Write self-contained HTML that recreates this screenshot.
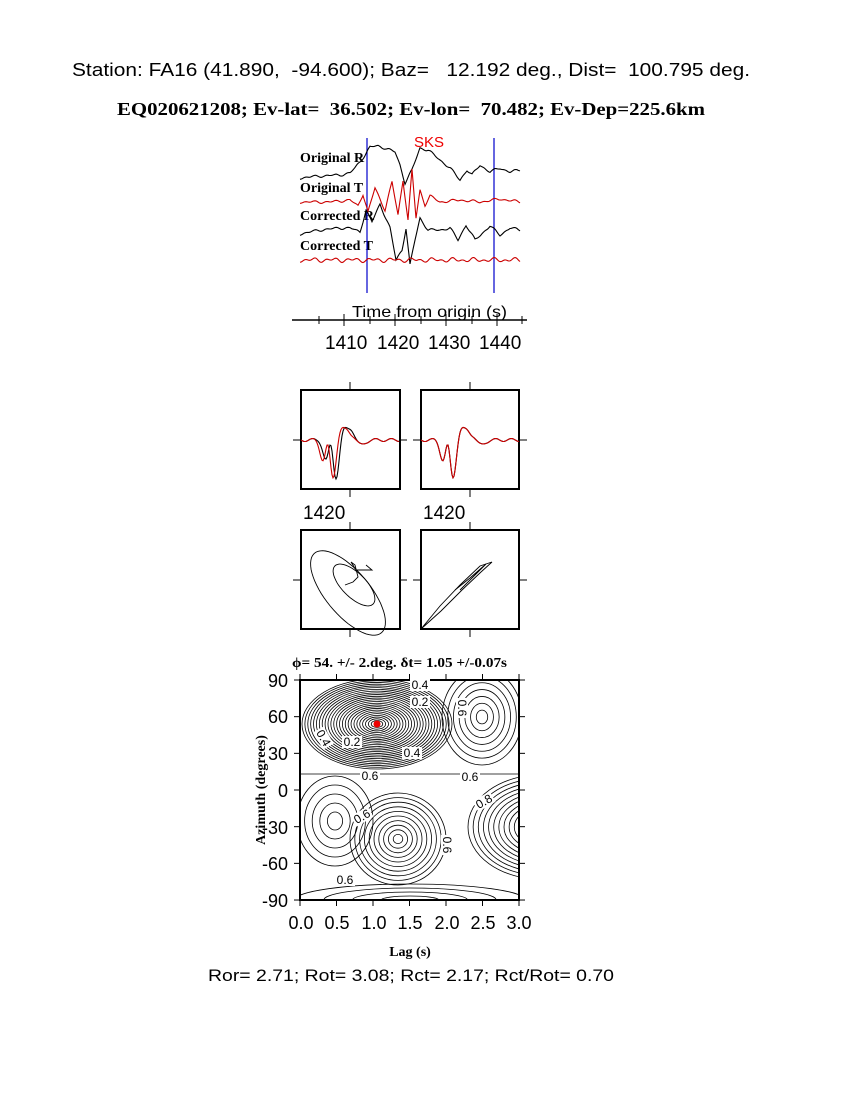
<!DOCTYPE html>
<html><head><meta charset="utf-8"><style>
body{margin:0;background:#fff;width:850px;height:1100px;overflow:hidden}
svg{position:absolute;left:0;top:0}
text{font-family:"Liberation Sans",sans-serif;white-space:pre}
.s{font-family:"Liberation Serif",serif;font-weight:bold}
</style></head><body>
<svg id="g" width="850" height="1100" viewBox="0 0 850 1100" xml:space="preserve">
<text x="72" y="76" font-size="18" textLength="678" lengthAdjust="spacingAndGlyphs">Station: FA16 (41.890,  -94.600); Baz=   12.192 deg., Dist=  100.795 deg.</text>
<text class="s" x="117" y="115" font-size="18" textLength="588" lengthAdjust="spacingAndGlyphs">EQ020621208; Ev-lat=  36.502; Ev-lon=  70.482; Ev-Dep=225.6km</text>
<text x="414" y="147" font-size="15" fill="#e00">SKS</text>
<text class="s" x="300" y="162" font-size="14">Original R</text>
<text class="s" x="300" y="192" font-size="14">Original T</text>
<text class="s" x="300" y="220" font-size="14">Corrected R</text>
<text class="s" x="300" y="250" font-size="14">Corrected T</text>
<line x1="367" y1="138" x2="367" y2="293" stroke="#00c" stroke-width="1.2"/>
<line x1="494" y1="138" x2="494" y2="293" stroke="#00c" stroke-width="1.2"/>
<text x="352" y="317" font-size="16" textLength="155" lengthAdjust="spacingAndGlyphs">Time from origin (s)</text>
<line x1="292" y1="320" x2="527" y2="320" stroke="#000" stroke-width="1.5"/>
<g stroke="#000" stroke-width="1">
<line x1="319" y1="316" x2="319" y2="324"/><line x1="344" y1="314" x2="344" y2="326"/><line x1="370" y1="316" x2="370" y2="324"/><line x1="395" y1="314" x2="395" y2="326"/><line x1="421" y1="316" x2="421" y2="324"/><line x1="446" y1="314" x2="446" y2="326"/><line x1="472" y1="316" x2="472" y2="324"/><line x1="497" y1="314" x2="497" y2="326"/><line x1="522" y1="316" x2="522" y2="324"/>
</g>
<g font-size="19"><text x="325" y="349">1410</text><text x="377" y="349">1420</text><text x="428" y="349">1430</text><text x="479" y="349">1440</text></g>
<g id="boxes" fill="none" stroke="#000" stroke-width="2">
<rect x="301" y="390" width="99" height="99"/><rect x="421" y="390" width="98" height="99"/>
<rect x="301" y="530" width="99" height="99"/><rect x="421" y="530" width="98" height="99"/>
</g>
<g font-size="19"><text x="303" y="519">1420</text><text x="423" y="519">1420</text></g>
<text class="s" x="292" y="667" font-size="14" textLength="215" lengthAdjust="spacingAndGlyphs">ϕ= 54. +/- 2.deg. δt= 1.05 +/-0.07s</text>
<rect x="300" y="680" width="219" height="220" fill="none" stroke="#000" stroke-width="2"/>
<g font-size="18" text-anchor="end"><text x="288" y="687">90</text><text x="288" y="723">60</text><text x="288" y="760">30</text><text x="288" y="797">0</text><text x="288" y="834">-30</text><text x="288" y="870">-60</text><text x="288" y="907">-90</text></g>
<g font-size="18" text-anchor="middle"><text x="301" y="929">0.0</text><text x="337" y="929">0.5</text><text x="374" y="929">1.0</text><text x="410" y="929">1.5</text><text x="447" y="929">2.0</text><text x="483" y="929">2.5</text><text x="519" y="929">3.0</text></g>
<text class="s" x="265" y="790" font-size="14" text-anchor="middle" transform="rotate(-90 265 790)">Azimuth (degrees)</text>
<text class="s" x="410" y="956" font-size="14" text-anchor="middle">Lag (s)</text>
<text x="208" y="981" font-size="17" textLength="406" lengthAdjust="spacingAndGlyphs">Ror= 2.71; Rot= 3.08; Rct= 2.17; Rct/Rot= 0.70</text>
<g id="dyn"></g>
</svg>
<script>
var d=document.getElementById('dyn'),NS='http://www.w3.org/2000/svg';
function P(pts,c,w){var p=document.createElementNS(NS,'path');p.setAttribute('d','M'+pts.map(function(q){return q[0].toFixed(1)+','+q[1].toFixed(1)}).join('L'));p.setAttribute('fill','none');p.setAttribute('stroke',c);p.setAttribute('stroke-width',w||1);d.appendChild(p);}
function T(x,y,s,r){var t=document.createElementNS(NS,'text');t.setAttribute('x',x);t.setAttribute('y',y);t.setAttribute('font-size',12);t.setAttribute('text-anchor','middle');if(r)t.setAttribute('transform','rotate('+r+' '+x+' '+y+')');t.textContent=s;var b=document.createElementNS(NS,'rect');b.setAttribute('x',x-10);b.setAttribute('y',y-10);b.setAttribute('width',20);b.setAttribute('height',12);b.setAttribute('fill','#fff');if(r)b.setAttribute('transform','rotate('+r+' '+x+' '+y+')');d.appendChild(b);d.appendChild(t);}
function g(x,c,s){return Math.exp(-(x-c)*(x-c)/(2*s*s));}
function lin(x,xs,ys){for(var i=0;i<xs.length-1;i++)if(x<=xs[i+1]){var t=(x-xs[i])/(xs[i+1]-xs[i]);return ys[i]+t*(ys[i+1]-ys[i]);}return ys[ys.length-1];}
function tr(xs,ys,c,ns){var a=[];for(var x=300;x<=520;x+=1)a.push([x,lin(x,xs,ys)+(ns||0)*Math.sin(x/2.2)*Math.sin(x/7)]);P(a,c,1.1);}
tr([300,320,340,350,355,365,370,378,385,395,400,405,412,420,428,440,450,460,467,472,480,490,500,510,520],
   [178,176,175,173,168,155,147,146,148,152,165,183,170,148,150,160,168,180,170,175,165,172,168,172,170],'#000',1.5);
tr([300,330,350,358,363,368,375,385,392,398,403,408,412,416,420,425,430,440,460,480,500,520],
   [202,202,200,206,194,212,188,210,182,215,180,220,170,218,190,205,196,202,200,202,199,202],'#c00',1.5);
tr([300,320,340,350,360,366,372,380,390,396,402,406,410,415,420,428,440,450,458,466,475,490,500,510,520],
   [234,230,228,228,232,210,222,204,228,260,250,228,265,240,218,230,230,228,240,225,240,226,235,228,230],'#000',1.5);
tr([300,520],[260,260],'#c00',2.5);
function bw(x0,sh,c){var a=[];for(var x=x0;x<=x0+98;x+=1){var u=x-x0;a.push([x,440+1.5*Math.sin(u/2.5)+38*g(u,32+sh,3)+20*g(u,22+sh,3)-8*g(u,27+sh,2)-10*g(u,40+sh,3)-8*g(u,46+sh,3)+5*g(u,60,4)-4*g(u,52,3)]);}P(a,c,1.1);}
bw(301,3,'#000');bw(301,0,'#c00');bw(421,0,'#000');bw(421,0,'#c00');
function el(cx,cy,rx,ry,rot,c){var a=[];for(var t=0;t<=6.35;t+=0.1){var x=rx*Math.cos(t),y=ry*Math.sin(t),r=rot*Math.PI/180;a.push([cx+x*Math.cos(r)-y*Math.sin(r),cy+x*Math.sin(r)+y*Math.cos(r)]);}P(a,c,0.9);}
el(348,593,52,22,50,'#000');el(354,585,27,12,45,'#000');
P([[345,585],[353,582],[358,577],[355,565],[351,562],[356,570],[372,570],[366,565]],'#000',0.9);
P([[421,629],[440,606],[460,585],[480,566],[492,562],[481,572],[462,590],[441,611],[421,629]],'#000',0.9);
P([[455,590],[470,578],[486,564],[474,576],[460,590]],'#000',0.9);
[[301,390],[421,390],[301,530],[421,530]].forEach(function(b){var l=document.createElementNS(NS,'g');l.innerHTML='<line x1="'+(b[0]-8)+'" y1="'+(b[1]+50)+'" x2="'+b[0]+'" y2="'+(b[1]+50)+'" stroke="#000"/><line x1="'+(b[0]+98)+'" y1="'+(b[1]+50)+'" x2="'+(b[0]+106)+'" y2="'+(b[1]+50)+'" stroke="#000"/><line x1="'+(b[0]+49)+'" y1="'+(b[1]-8)+'" x2="'+(b[0]+49)+'" y2="'+b[1]+'" stroke="#000"/><line x1="'+(b[0]+49)+'" y1="'+(b[1]+99)+'" x2="'+(b[0]+49)+'" y2="'+(b[1]+107)+'" stroke="#000"/>';d.appendChild(l);});
var cl=document.createElementNS(NS,'clipPath');cl.id='cc';cl.innerHTML='<rect x="300" y="680" width="219" height="220"/>';d.appendChild(cl);
var cg=document.createElementNS(NS,'g');cg.setAttribute('clip-path','url(#cc)');d.appendChild(cg);
function ce(cx,cy,rx,ry,n){for(var i=1;i<=n;i++){var e=document.createElementNS(NS,'ellipse');e.setAttribute('cx',cx);e.setAttribute('cy',cy);e.setAttribute('rx',rx*i/n);e.setAttribute('ry',ry*i/n);e.setAttribute('fill','none');e.setAttribute('stroke','#000');e.setAttribute('stroke-width',0.8);cg.appendChild(e);}}
ce(377,724,75,45,26);
ce(482,717,40,48,7);
ce(398,839,48,46,10);
ce(540,827,72,52,14);
ce(335,821,38,45,5);
ce(410,900,115,16,4);
P([[300,774],[519,774]],'#000',0.8);
T(420,689,'0.4');T(420,706,'0.2');T(370,780,'0.6');T(470,781,'0.6');T(320,740,'0.4',60);T(352,746,'0.2');T(412,757,'0.4');T(458,708,'0.6',90);T(364,820,'0.6',-30);T(486,805,'0.8',-30);T(443,845,'0.6',90);T(345,884,'0.6');
var dot=document.createElementNS(NS,'circle');dot.setAttribute('cx',377);dot.setAttribute('cy',724);dot.setAttribute('r',3.5);dot.setAttribute('fill','#e00');d.appendChild(dot);
var tk=document.createElementNS(NS,'g');var h='';for(var i=0;i<=6;i++){var x=300+i*36.5;h+='<line x1="'+x+'" y1="900" x2="'+x+'" y2="906" stroke="#000"/><line x1="'+x+'" y1="674" x2="'+x+'" y2="680" stroke="#000"/>';var y=680+i*36.67;h+='<line x1="294" y1="'+y+'" x2="300" y2="'+y+'" stroke="#000"/><line x1="519" y1="'+y+'" x2="525" y2="'+y+'" stroke="#000"/>';}tk.innerHTML=h;d.appendChild(tk);
</script>
</body></html>
